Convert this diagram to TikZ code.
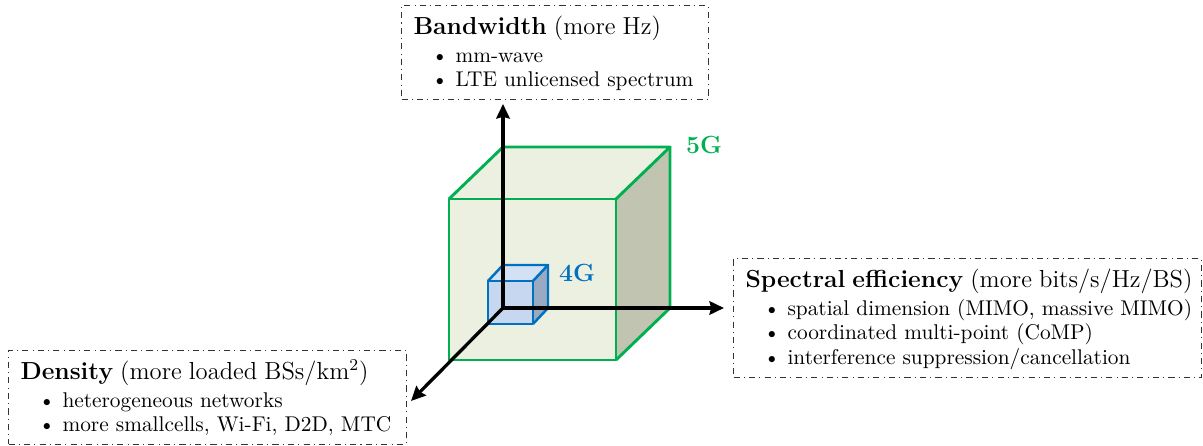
\documentclass[tikz,border=0pt]{standalone}
\usetikzlibrary{arrows.meta}

\definecolor{cubegreen}{HTML}{00B050}
\definecolor{greenface}{HTML}{ECF0E1}
\definecolor{greenside}{HTML}{C0C4B0}
\definecolor{cubeblue}{HTML}{0070C0}
\definecolor{blueface}{HTML}{C6D7EF}
\definecolor{bluetop}{HTML}{D3E1F5}
\definecolor{blueside}{HTML}{9AAAC2}

% heading line and bullet line inside the boxes
\newcommand{\boxhead}[2]{\mbox{\fontsize{11.9}{11.8}\selectfont\rule{0pt}{10pt}\textbf{#1} #2}}
\newcommand{\bl}[1]{\mbox{\makebox[20.3pt][l]{\hspace{8.7pt}\textbullet}#1}}

\begin{document}
\begin{tikzpicture}[x=0.483pt, y=-0.483pt,
  infobox/.style={draw=black!80, line width=0.5pt, dash dot, anchor=north west,
    align=left, inner xsep=5.8pt, inner ysep=3.9pt,
    font=\fontsize{10.3}{11.8}\selectfont},
  axis/.style={line width=1.6pt, -{Stealth[length=7pt, width=6.5pt, inset=0.8pt]}},
  bigedge/.style={draw=cubegreen, line width=1.4pt, line join=round},
  smalledge/.style={draw=cubeblue, line width=1.2pt, line join=round},
  genlabel/.style={font=\large\bfseries}]

\useasboundingbox (0,0) rectangle (1203,446);

% shared corner of both cubes and of the axes
\coordinate (O) at (503,308);

% 5G cube: front face, top face, right face
\coordinate (gA) at (449,199);  % front top left
\coordinate (gB) at (616,199);  % front top right
\coordinate (gC) at (616,360);  % front bottom right
\coordinate (gD) at (449,360);  % front bottom left
\coordinate (gE) at (503,147);  % back top left
\coordinate (gF) at (670,147);  % back top right
\coordinate (gG) at (670,308);  % back bottom right
\fill[greenface] (gA) -- (gB) -- (gC) -- (gD) -- cycle;
\fill[greenface] (gA) -- (gE) -- (gF) -- (gB) -- cycle;
\fill[greenside] (gB) -- (gF) -- (gG) -- (gC) -- cycle;
\draw[bigedge] (gA) -- (gB) -- (gC) -- (gD) -- cycle;
\draw[bigedge] (gA) -- (gE) -- (gF) -- (gB);
\draw[bigedge] (gF) -- (gG) -- (gC);

% 4G cube
\coordinate (bA) at (488,281);
\coordinate (bB) at (533,281);
\coordinate (bC) at (533,324);
\coordinate (bD) at (488,324);
\coordinate (bE) at (503,265);
\coordinate (bF) at (548,265);
\coordinate (bG) at (548,308);
\fill[blueface] (bA) -- (bB) -- (bC) -- (bD) -- cycle;
\fill[bluetop] (bA) -- (bE) -- (bF) -- (bB) -- cycle;
\fill[blueside] (bB) -- (bF) -- (bG) -- (bC) -- cycle;
\draw[smalledge] (bA) -- (bB) -- (bC) -- (bD) -- cycle;
\draw[smalledge] (bA) -- (bE) -- (bF) -- (bB);
\draw[smalledge] (bF) -- (bG) -- (bC);

\node[genlabel, text=cubegreen] (g5) at (704,145) {5G};
\node[genlabel, text=cubeblue] (g4) at (577,273) {4G};

% axes
\coordinate (up) at (503,104);
\coordinate (right) at (724,308);
\coordinate (down) at (411,401);
\draw[axis] (O) -- (up);
\draw[axis] (O) -- (right);
\draw[axis] (O) -- (down);

% text boxes
\node[infobox, text width=136.7pt] (bw) at (401,5) {%
  \boxhead{Bandwidth}{(more Hz)}\\[1.8pt]
  \bl{mm-wave}\\
  \bl{LTE unlicensed spectrum}};

\node[infobox, text width=214.4pt] (se) at (733,258) {%
  \boxhead{Spectral efficiency}{(more bits/s/Hz/BS)}\\[1.8pt]
  \bl{spatial dimension (MIMO, massive MIMO)}\\
  \bl{coordinated multi-point (CoMP)}\\
  \bl{interference suppression/cancellation}};

\node[infobox, text width=180.6pt] (dn) at (8,350) {%
  \boxhead{Density}{(more loaded BSs/km$^2$)}\\[1.8pt]
  \bl{heterogeneous networks}\\
  \bl{more smallcells, Wi-Fi, D2D, MTC}};

\end{tikzpicture}
\end{document}
